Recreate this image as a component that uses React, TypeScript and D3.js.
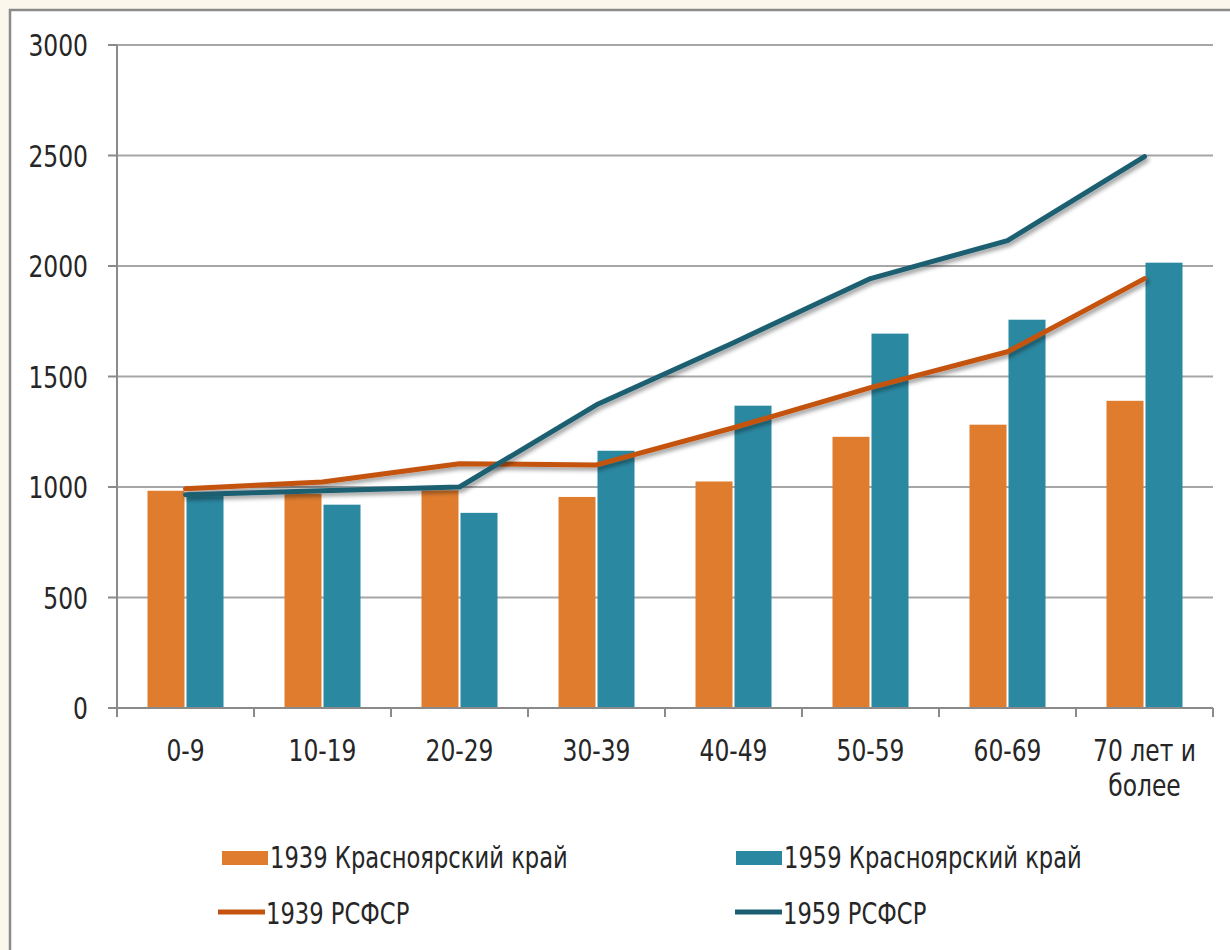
import React from "react";
import * as d3 from "d3";

const categories = ["0-9", "10-19", "20-29", "30-39", "40-49", "50-59", "60-69", "70 лет и более"];
const kray1939 = [983, 970, 985, 955, 1025, 1227, 1282, 1390];
const kray1959 = [965, 920, 883, 1164, 1368, 1694, 1757, 2015];
const rsfsr1939 = [992, 1023, 1105, 1100, 1268, 1450, 1612, 1943];
const rsfsr1959 = [965, 983, 1000, 1372, 1653, 1943, 2115, 2495];
const yTicks = [0, 500, 1000, 1500, 2000, 2500, 3000];

const C_BAR39 = "#df7c2e";
const C_BAR59 = "#2b88a1";
const C_LINE39 = "#c4530f";
const C_LINE59 = "#1b5e71";
const FONT = "'Liberation Sans Narrow', 'DejaVu Sans Condensed', 'Open Sans', sans-serif";
const SX = 0.84;

function T({ x, y, anchor = "start", size = 31, children }: { x: number; y: number; anchor?: string; size?: number; children: React.ReactNode }) {
  return (
    <text
      transform={`translate(${x},${y}) scale(${SX},1)`}
      textAnchor={anchor}
      fontFamily={FONT}
      fontSize={size}
      fill="#262626"
    >
      {children}
    </text>
  );
}

export default function App() {
  const W = 1230, H = 950;
  const left = 117, right = 1213, top = 45, bottom = 708;
  const x = d3.scaleBand<string>().domain(categories).range([left, right]);
  const y = d3.scaleLinear().domain([0, 3000]).range([bottom, top]);
  const bw = 37;
  const gap = 2;
  const cx = (c: string) => (x(c) as number) + x.bandwidth() / 2;
  const line = d3.line<number>().x((_, i) => cx(categories[i])).y((v) => y(v));

  return (
    <svg width={W} height={H} style={{ position: "absolute", left: 0, top: 0, display: "block" }}>
      <defs>
        <filter id="sh" x="-10%" y="-10%" width="120%" height="130%">
          <feDropShadow dx="2" dy="3" stdDeviation="2" floodColor="#000" floodOpacity="0.4" />
        </filter>
      </defs>
      <rect x={0} y={0} width={W} height={H} fill="#fcf7ec" />
      <rect x={10} y={10} width={W} height={H} fill="#ffffff" stroke="#8a8a8a" strokeWidth={2.5} />
      {yTicks.map((t) => (
        <line key={t} x1={left} x2={right} y1={y(t)} y2={y(t)} stroke="#a6a6a6" strokeWidth={2} />
      ))}
      {categories.map((c, i) => (
        <g key={c}>
          <rect x={cx(c) - gap / 2 - bw} y={y(kray1939[i])} width={bw} height={bottom - y(kray1939[i])} fill={C_BAR39} />
          <rect x={cx(c) + gap / 2} y={y(kray1959[i])} width={bw} height={bottom - y(kray1959[i])} fill={C_BAR59} />
        </g>
      ))}
      <line x1={left} x2={left} y1={top} y2={bottom} stroke="#8a8a8a" strokeWidth={2} />
      {yTicks.map((t) => (
        <line key={"yt" + t} x1={left - 9} x2={left} y1={y(t)} y2={y(t)} stroke="#8a8a8a" strokeWidth={2} />
      ))}
      <line x1={left - 9} x2={right} y1={bottom} y2={bottom} stroke="#8a8a8a" strokeWidth={2} />
      {categories.concat(["end"]).map((c, i) => {
        const xx = left + i * x.bandwidth();
        return <line key={"xt" + i} x1={xx} x2={xx} y1={bottom} y2={bottom + 9} stroke="#8a8a8a" strokeWidth={2} />;
      })}
      <path d={line(rsfsr1939) || ""} fill="none" stroke={C_LINE39} strokeWidth={5} strokeLinejoin="round" strokeLinecap="round" filter="url(#sh)" />
      <path d={line(rsfsr1959) || ""} fill="none" stroke={C_LINE59} strokeWidth={5} strokeLinejoin="round" strokeLinecap="round" filter="url(#sh)" />
      {yTicks.map((t) => (
        <T key={"yl" + t} x={88} y={y(t) + 11} anchor="end">
          {t}
        </T>
      ))}
      {categories.map((c) => {
        const parts = c === "70 лет и более" ? ["70 лет и", "более"] : [c];
        return parts.map((p, j) => (
          <T key={"xl" + c + j} x={cx(c)} y={761 + j * 35} anchor="middle">
            {p}
          </T>
        ));
      })}
      <rect x={222} y={851} width={46} height={14} fill={C_BAR39} />
      <T x={270} y={868} size={30}>1939 Красноярский край</T>
      <rect x={736} y={851} width={46} height={14} fill={C_BAR59} />
      <T x={784} y={868} size={30}>1959 Красноярский край</T>
      <line x1={218} x2={265} y1={912} y2={912} stroke={C_LINE39} strokeWidth={5} />
      <T x={266} y={924} size={30}>1939 РСФСР</T>
      <line x1={735} x2={782} y1={912} y2={912} stroke={C_LINE59} strokeWidth={5} />
      <T x={783} y={924} size={30}>1959 РСФСР</T>
    </svg>
  );
}
